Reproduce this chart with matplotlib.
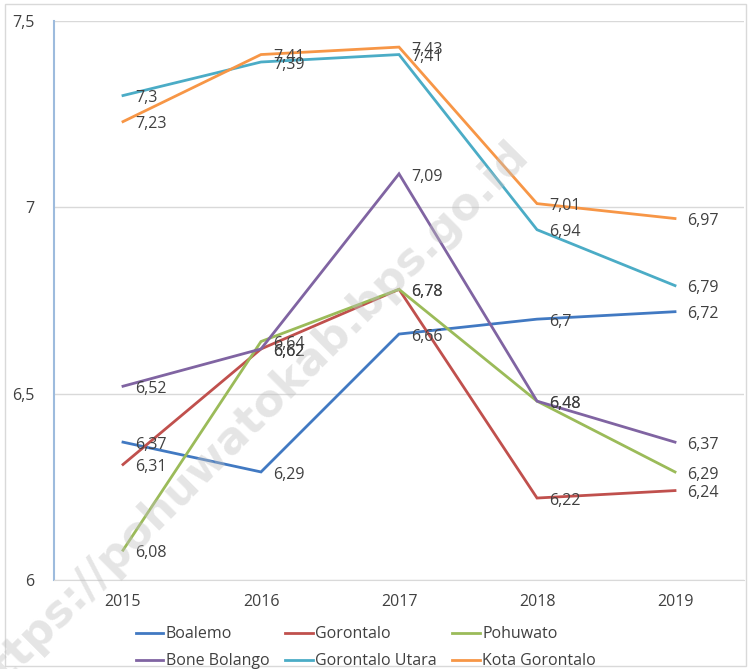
import matplotlib
matplotlib.use("Agg")
import matplotlib.pyplot as plt
from matplotlib.patches import Rectangle

#%% data
years = ["2015", "2016", "2017", "2018", "2019"]
boalemo = [6.37, 6.29, 6.66, 6.70, 6.72]
gorontalo = [6.31, 6.62, 6.78, 6.22, 6.24]
pohuwato = [6.08, 6.64, 6.78, 6.48, 6.29]
bone_bolango = [6.52, 6.62, 7.09, 6.48, 6.37]
gorontalo_utara = [7.30, 7.39, 7.41, 6.94, 6.79]
kota_gorontalo = [7.23, 7.41, 7.43, 7.01, 6.97]

names = ["Boalemo", "Gorontalo", "Pohuwato", "Bone Bolango", "Gorontalo Utara", "Kota Gorontalo"]
series = [boalemo, gorontalo, pohuwato, bone_bolango, gorontalo_utara, kota_gorontalo]
colors = ["#4179C2", "#C0504D", "#9BBB59", "#8064A2", "#4BACC6", "#F79646"]

yticks = [6, 6.5, 7, 7.5]
ytick_labels = ["6", "6,5", "7", "7,5"]

plt.rcParams['font.family'] = ['Open Sans', 'DejaVu Sans']
txt = '#404040'

#%% plot
fig = plt.figure(figsize=(7.51, 6.69), dpi=100)
ax = fig.add_axes([0.0719, 0.133, 0.9188, 0.8356])

x = list(range(len(years)))
handles = []
for name, vals, c in zip(names, series, colors):
    h, = ax.plot(x, vals, color=c, lw=2.0, label=name, solid_joinstyle='miter', zorder=3)
    handles.append(h)
    for xi, v in zip(x, vals):
        lab = ('%g' % v).replace('.', ',')
        ax.annotate(lab, (xi, v), xytext=(9, -2), textcoords='offset points',
                    ha='left', va='center', fontsize=11.5, color=txt, zorder=4)

ax.set_xlim(-0.5, len(years) - 0.5)
ax.set_ylim(6, 7.5)
ax.set_yticks(yticks)
ax.set_yticklabels(ytick_labels)
ax.set_xticks(x)
ax.set_xticklabels(years)
ax.tick_params(axis='both', length=0, labelsize=11.5, labelcolor=txt)
ax.tick_params(axis='y', pad=14)
ax.tick_params(axis='x', pad=10)
ax.grid(axis='y', color='#D9D9D9', lw=1)
ax.set_axisbelow(True)
for s in ['top', 'right']:
    ax.spines[s].set_visible(False)
ax.spines['bottom'].set_color('#D9D9D9')
ax.spines['left'].set_color('#9DBBDD')
ax.spines['left'].set_linewidth(1.5)

# legend fills column-wise, so reorder to get the row-wise look
order = [0, 3, 1, 4, 2, 5]
fig.legend([handles[i] for i in order], [names[i] for i in order],
           loc='lower center', bbox_to_anchor=(0.487, -0.022), ncol=3, frameon=False,
           fontsize=11.5, labelcolor=txt, handlelength=1.75, handletextpad=0.15,
           columnspacing=0.95, labelspacing=0.7)

# watermark
fig.text(0.33, 0.37, "https://pohuwatokab.bps.go.id", rotation=45, fontsize=32,
         fontweight='bold', color='#BFBFBF', alpha=0.4, ha='center', va='center',
         family='DejaVu Sans', zorder=5)

# outer frame
fig.patches.append(Rectangle((0.006, 0.004), 0.988, 0.99, transform=fig.transFigure,
                             fill=False, ec='#D9D9D9', lw=1))

fig.savefig("out.png", dpi=100)
